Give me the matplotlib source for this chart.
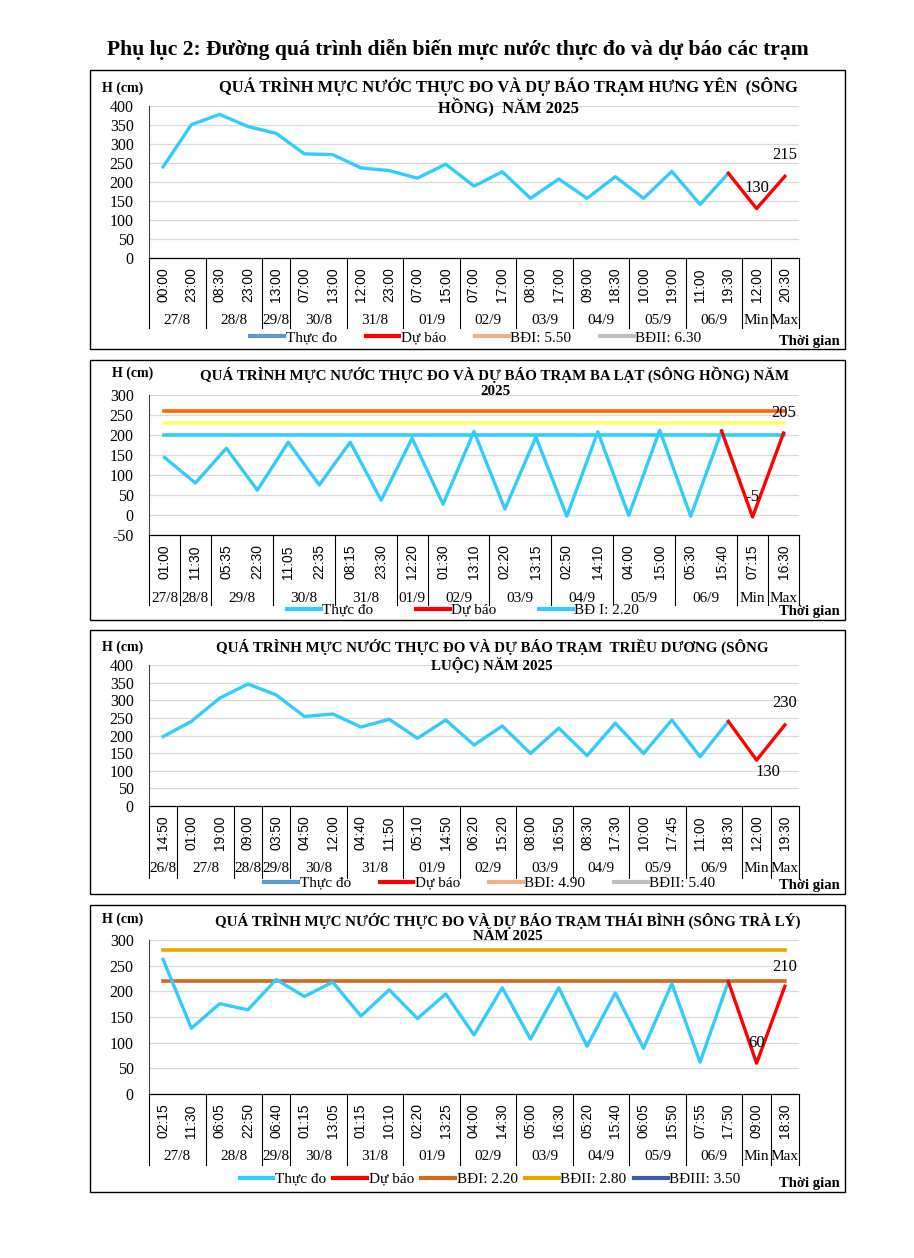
import numpy as np
import matplotlib
matplotlib.use("Agg")
import matplotlib.pyplot as plt
from matplotlib.lines import Line2D
from matplotlib.patches import Rectangle
from matplotlib.transforms import blended_transform_factory

plt.rcParams['font.family'] = ['Liberation Serif', 'DejaVu Serif']
plt.rcParams['axes.unicode_minus'] = False

# ---- Hung Yen (Song Hong)
hy_times = ["00:00", "23:00", "08:30", "23:00", "13:00", "07:00", "13:00", "12:00",
            "23:00", "07:00", "15:00", "07:00", "17:00", "08:00", "17:00", "09:00",
            "18:30", "10:00", "19:00", "11:00", "19:30", "12:00", "20:30"]
hy_groups = ["27/8", "28/8", "29/8", "30/8", "31/8", "01/9", "02/9", "03/9",
             "04/9", "05/9", "06/9", "Min", "Max"]
hy_sizes = [2, 2, 1, 2, 2, 2, 2, 2, 2, 2, 2, 1, 1]
hy_measured = [240, 351, 378, 346, 328, 274, 272, 237, 230, 210, 247, 189, 227,
               157, 208, 157, 214, 157, 228, 141, 223]
hy_forecast = [130, 215]

# ---- Ba Lat (Song Hong)
bl_times = ["01:00", "11:30", "05:35", "22:30", "11:05", "22:35", "08:15", "23:30",
            "12:20", "01:30", "13:10", "02:20", "13:15", "02:50", "14:10", "04:00",
            "15:00", "05:30", "15:40", "07:15", "16:30"]
bl_groups = ["27/8", "28/8", "29/8", "30/8", "31/8", "01/9", "02/9", "03/9",
             "04/9", "05/9", "06/9", "Min", "Max"]
bl_sizes = [1, 1, 2, 2, 2, 1, 2, 2, 2, 2, 2, 1, 1]
bl_measured = [144, 80, 167, 62, 182, 75, 182, 37, 192, 27, 209, 15, 195, -3,
               208, -1, 212, -3, 210]
bl_forecast = [-5, 205]
bl_levels = [260, 230, 200]

# ---- Trieu Duong (Song Luoc)
td_times = ["14:50", "01:00", "19:00", "09:00", "03:50", "04:50", "12:00", "04:40",
            "11:50", "05:10", "14:50", "06:20", "15:20", "08:00", "16:50", "08:30",
            "17:30", "10:00", "17:45", "11:00", "18:30", "12:00", "19:30"]
td_groups = ["26/8", "27/8", "28/8", "29/8", "30/8", "31/8", "01/9", "02/9",
             "03/9", "04/9", "05/9", "06/9", "Min", "Max"]
td_sizes = [1, 2, 1, 1, 2, 2, 2, 2, 2, 2, 2, 2, 1, 1]
td_measured = [197, 240, 306, 346, 315, 254, 261, 224, 246, 192, 244, 173, 227,
               149, 221, 143, 235, 149, 244, 140, 240]
td_forecast = [130, 230]

# ---- Thai Binh (Song Tra Ly)
tb_times = ["02:15", "11:30", "06:05", "22:50", "06:40", "01:15", "13:05", "01:15",
            "10:10", "02:20", "13:25", "04:00", "14:30", "05:00", "16:30", "05:20",
            "15:40", "06:05", "15:50", "07:55", "17:50", "09:00", "18:30"]
tb_groups = ["27/8", "28/8", "29/8", "30/8", "31/8", "01/9", "02/9", "03/9",
             "04/9", "05/9", "06/9", "Min", "Max"]
tb_sizes = [2, 2, 1, 2, 2, 2, 2, 2, 2, 2, 2, 1, 1]
tb_measured = [262, 128, 176, 164, 223, 190, 218, 152, 203, 147, 195, 115, 207,
               107, 207, 93, 197, 89, 215, 62, 219]
tb_forecast = [60, 210]
tb_levels = [220, 280]

W, H = 914, 1258
CYAN = "#33CCFF"
RED = "#FF0000"


def fx(px):
    return px / W


def fy(py):
    return 1 - py / H


fig = plt.figure(figsize=(W / 100, H / 100), dpi=100)

fig.text(fx(458), fy(50), "Phụ lục 2: Đường quá trình diễn biến mực nước thực đo và dự báo các trạm",
         ha='center', va='center', fontsize=15.6, fontweight='bold')


def draw_panel(box, plot, title, title_pos, times, groups, sizes, measured, forecast,
               ylim, levels, legend_items, legend_pos, labels, hcm_x, tg_y, date_y, sep_y,
               title_size=10.8):
    # frame around the chart
    fig.patches.append(Rectangle((fx(90), fy(box[1])), fx(845) - fx(90), (box[1] - box[0]) / H,
                                 transform=fig.transFigure, fill=False, ec='black', lw=1))
    pt, pb = plot
    ax = fig.add_axes([fx(149), fy(pb), fx(799) - fx(149), (pb - pt) / H])
    n = len(times)
    ax.set_xlim(-0.5, n - 0.5)
    ax.set_ylim(ylim)
    ax.set_yticks(np.arange(ylim[0], ylim[1] + 1, 50))
    ax.grid(axis='y', color='#D9D9D9', lw=0.9)
    ax.set_axisbelow(True)
    ax.set_xticks([])
    ax.tick_params(axis='y', length=0, pad=11, labelsize=11.5)
    for s in ['top', 'right']:
        ax.spines[s].set_visible(False)
    ax.spines['left'].set_color('#404040')
    ax.spines['left'].set_linewidth(0.8)
    ax.spines['bottom'].set_linewidth(0.9)

    for y, c in levels:
        ax.plot([0, n - 1], [y, y], color=c, lw=2.6)

    m = len(measured)
    ax.plot(range(m), measured, color=CYAN, lw=2.4)
    ax.plot(range(m - 1, n), [measured[-1]] + forecast, color=RED, lw=2.4)

    for (xi, yi, txt) in labels:
        ax.text(xi, yi, txt, ha='center', va='center', fontsize=12)

    # two-level category axis
    tr = blended_transform_factory(ax.transData, fig.transFigure)
    for i, t in enumerate(times):
        ax.text(i, fy(pb + 27), t, transform=tr, rotation=90, ha='center', va='center',
                fontsize=10, family='Liberation Sans')
    start = 0
    bounds = [-0.5]
    for g, sz in zip(groups, sizes):
        ax.text(start + sz / 2 - 0.5, fy(date_y), g, transform=tr, ha='center', va='center',
                fontsize=11)
        start += sz
        bounds.append(start - 0.5)
    for b in bounds:
        ax.plot([b, b], [fy(pb), fy(sep_y)], transform=tr, color='black', lw=0.8, clip_on=False)

    fig.text(fx(title_pos[0]), fy(title_pos[1]), title, ha='center', va='center',
             fontsize=title_size, fontweight='bold', linespacing=1.15)
    fig.text(fx(hcm_x), fy(title_pos[1] - 9), "H (cm)", ha='left', va='center',
             fontsize=10, fontweight='bold')
    fig.text(fx(840), fy(tg_y), "Thời gian", ha='right', va='center',
             fontsize=10.5, fontweight='bold')

    handles = [Line2D([], [], color=c, lw=3) for _, c in legend_items]
    names = [nm for nm, _ in legend_items]
    fig.legend(handles, names, loc='center', bbox_to_anchor=(fx(legend_pos[0]), fy(legend_pos[1])),
               bbox_transform=fig.transFigure, ncol=len(names), frameon=False, fontsize=11,
               handlelength=2.2, handletextpad=0.1, columnspacing=legend_pos[2],
               borderaxespad=0, borderpad=0)
    return ax


draw_panel((70, 349), (106, 258),
           "QUÁ TRÌNH MỰC NƯỚC THỰC ĐO VÀ DỰ BÁO TRẠM HƯNG YÊN  (SÔNG\nHỒNG)  NĂM 2025", (508, 97),
           hy_times, hy_groups, hy_sizes, hy_measured, hy_forecast, (0, 400), [],
           [("Thực đo", "#5B9BD5"), ("Dự báo", RED), ("BĐI: 5.50", "#F4B183"), ("BĐII: 6.30", "#BFBFBF")],
           (476, 338, 1.9), [(21, 184, "130"), (22, 271, "215")], 102, 341, 320, 328,
           title_size=11.9)

draw_panel((360, 620), (395, 535),
           "QUÁ TRÌNH MỰC NƯỚC THỰC ĐO VÀ DỰ BÁO TRẠM BA LẠT (SÔNG HỒNG) NĂM\n2025", (495, 382),
           bl_times, bl_groups, bl_sizes, bl_measured, bl_forecast, (-50, 300),
           list(zip(bl_levels, ["#FF6600", "#FFFF66", CYAN])),
           [("Thực đo", CYAN), ("Dự báo", RED), ("BĐ I: 2.20", CYAN)],
           (463, 610, 2.8), [(19, 45, "-5"), (20, 255, "205")], 112, 612, 598, 605)

draw_panel((630, 894), (665, 806),
           "QUÁ TRÌNH MỰC NƯỚC THỰC ĐO VÀ DỰ BÁO TRẠM  TRIỀU DƯƠNG (SÔNG\nLUỘC) NĂM 2025", (492, 656),
           td_times, td_groups, td_sizes, td_measured, td_forecast, (0, 400), [],
           [("Thực đo", "#5B9BD5"), ("Dự báo", RED), ("BĐI: 4.90", "#F4B183"), ("BĐII: 5.40", "#BFBFBF")],
           (490, 883, 1.9), [(21.4, 96, "130"), (22, 292, "230")], 102, 885, 869, 878)

draw_panel((905, 1192), (940, 1094),
           "QUÁ TRÌNH MỰC NƯỚC THỰC ĐO VÀ DỰ BÁO TRẠM THÁI BÌNH (SÔNG TRÀ LÝ)\nNĂM 2025", (508, 928),
           tb_times, tb_groups, tb_sizes, tb_measured, tb_forecast, (0, 300),
           list(zip(tb_levels, ["#D2691E", "#E6A800"])),
           [("Thực đo", CYAN), ("Dự báo", RED), ("BĐI: 2.20", "#D2691E"), ("BĐII: 2.80", "#E6A800"),
            ("BĐIII: 3.50", "#3A5FA8")],
           (490, 1179, 0.5), [(21, 99, "60"), (22, 247, "210")], 102, 1183, 1156, 1165)

fig.savefig("out.png", dpi=100)
